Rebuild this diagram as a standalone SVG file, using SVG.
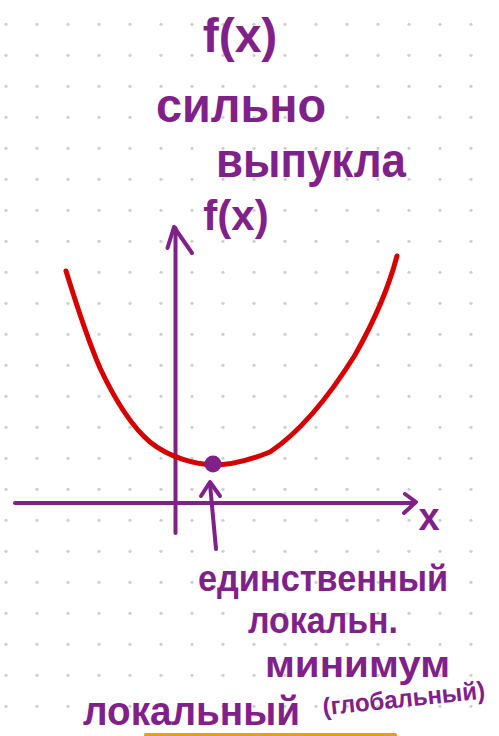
<svg xmlns="http://www.w3.org/2000/svg" width="499" height="736" viewBox="0 0 499 736">
<style>
.ink{fill:none;stroke:#802189;stroke-width:4;stroke-linecap:round;stroke-linejoin:round}
.t{fill:#802189;font-family:"Liberation Sans","Noto Sans",sans-serif;font-weight:bold}
</style>
<defs>
<pattern id="dots" patternUnits="userSpaceOnUse" width="31" height="31">
<circle cx="6" cy="24.3" r="1.6" fill="#cfcfcf"/>
</pattern>
</defs>
<rect width="499" height="736" fill="#fff"/>
<rect width="499" height="736" fill="url(#dots)"/>
<g id="connectors">
<path class="ink" d="M15,503 L414,503"/>
<path class="ink" d="M405,494 L416,502 L404,513"/>
<path class="ink" d="M175.5,533 L175.5,228"/>
<path class="ink" d="M167.5,248 L174,227 L192,253"/>
<path class="ink" d="M216,549 L210,484"/>
<path class="ink" d="M201,496 L210,482 L220,496"/>
</g>
<g id="curve">
<path d="M66,271 C75,300 90,345 100,368 C115,400 130,425 150,442 C170,458 195,464 213,465 C235,465 255,458 270,452 C300,432 330,395 355,355 C372,325 388,290 397,256" fill="none" stroke="#d50000" stroke-width="5" stroke-linecap="round"/>
</g>
<g id="minimum">
<circle cx="213" cy="464" r="8.5" fill="#802189"/>
</g>
<g id="title">
<text class="t" x="240" y="52" font-size="48" text-anchor="middle">f(x)</text>
<text class="t" x="156" y="122" font-size="48" textLength="170" lengthAdjust="spacingAndGlyphs">сильно</text>
<text class="t" x="216" y="177" font-size="48" textLength="190" lengthAdjust="spacingAndGlyphs">выпукла</text>
</g>
<g id="y-label"><text class="t" x="236" y="230" font-size="42" text-anchor="middle">f(x)</text></g>
<g id="x-label"><text class="t" x="429" y="530" font-size="38" text-anchor="middle">x</text></g>
<g id="annotation">
<text class="t" x="198" y="591" font-size="37" textLength="250" lengthAdjust="spacingAndGlyphs">единственный</text>
<text class="t" x="248" y="633" font-size="37" textLength="150" lengthAdjust="spacingAndGlyphs">локальн.</text>
<text class="t" x="265" y="677" font-size="37" textLength="185" lengthAdjust="spacingAndGlyphs">минимум</text>
<text class="t" x="83" y="725" font-size="40" textLength="217" lengthAdjust="spacingAndGlyphs">локальный</text>
<text class="t" x="322" y="707" font-size="25" textLength="163" lengthAdjust="spacingAndGlyphs" transform="rotate(-6 403 697)">(глобальный)</text>
</g>
<rect x="144" y="733" width="253" height="6" rx="2" fill="#ff9800"/>
</svg>
